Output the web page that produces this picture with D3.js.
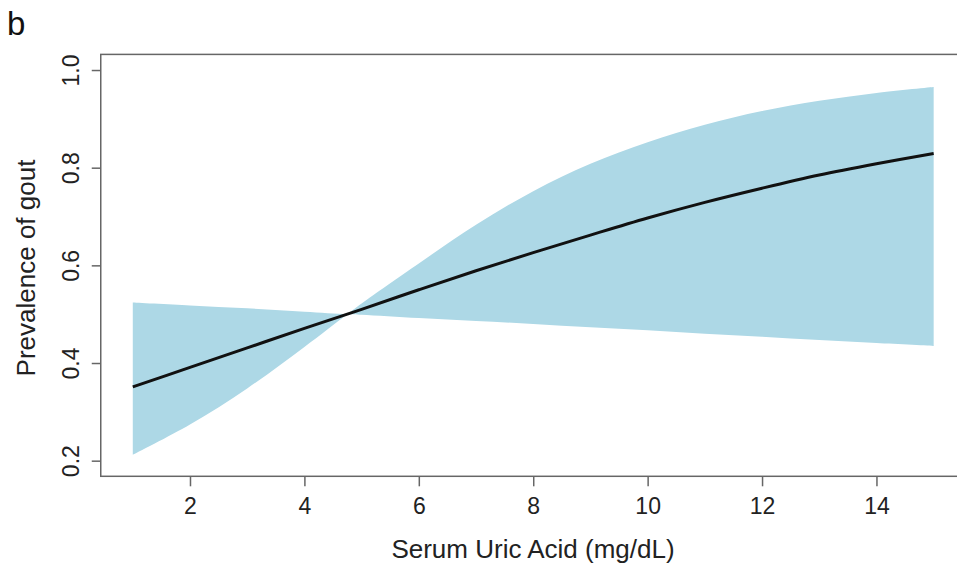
<!DOCTYPE html>
<html>
<head>
<meta charset="utf-8">
<script src="https://cdn.jsdelivr.net/npm/d3@7"></script>
<style>
  body { margin: 0; background: #fff; }
  text { font-family: "Liberation Sans", Arial, sans-serif; }
</style>
</head>
<body>
<div id="chart"></div>
<script>
// serum uric acid values where the curves were read
var uricAcid = [1, 2, 3, 4, 4.75, 5, 6, 7, 8, 9, 10, 11, 12, 13, 14, 15];
// fitted prevalence
var prevalence = [0.351, 0.391, 0.431, 0.471, 0.500, 0.510, 0.550, 0.589, 0.626, 0.662, 0.697, 0.729, 0.758, 0.785, 0.808, 0.829];
// the two confidence bounds (they cross near 4.75)
var boundFlat = [0.524, 0.518, 0.512, 0.505, 0.500, 0.499, 0.492, 0.486, 0.480, 0.473, 0.467, 0.460, 0.454, 0.447, 0.441, 0.435];
var boundSteep = [0.212, 0.274, 0.348, 0.433, 0.500, 0.522, 0.604, 0.683, 0.752, 0.808, 0.852, 0.888, 0.916, 0.937, 0.953, 0.965];

var xTicks = [2, 4, 6, 8, 10, 12, 14];
var yTicks = [0.2, 0.4, 0.6, 0.8, 1.0];

function draw_chart(){
    var width = 957;
    var height = 564;

    var svg = d3.select("#chart").append("svg")
        .attr("width", width)
        .attr("height", height);

    // R style domains with 4% padding
    var xScale = d3.scaleLinear().domain([0.44, 15.56]).range([100.75, 965.7]);
    var yScale = d3.scaleLinear().domain([0.168, 1.032]).range([476.3, 54.4]);

    var data = uricAcid.map(function(x, i) {
        return {x: x, y: prevalence[i], a: boundFlat[i], b: boundSteep[i]};
    });

    // confidence band
    var band = d3.area()
        .x(function(d) { return xScale(d.x); })
        .y0(function(d) { return yScale(d.a); })
        .y1(function(d) { return yScale(d.b); })
        .curve(d3.curveCatmullRom.alpha(0.5));

    svg.append("path")
        .datum(data)
        .attr("d", band)
        .style("fill", "#add8e6")
        .style("stroke", "none");

    // fitted line
    var line = d3.line()
        .x(function(d) { return xScale(d.x); })
        .y(function(d) { return yScale(d.y); })
        .curve(d3.curveCatmullRom.alpha(0.5));

    svg.append("path")
        .datum(data)
        .attr("d", line)
        .style("fill", "none")
        .style("stroke", "#111")
        .style("stroke-width", 3);

    // box
    svg.append("rect")
        .attr("x", xScale.range()[0])
        .attr("y", yScale.range()[1])
        .attr("width", xScale.range()[1] - xScale.range()[0])
        .attr("height", yScale.range()[0] - yScale.range()[1])
        .style("fill", "none")
        .style("stroke", "#666")
        .style("stroke-width", 1.5);

    // x axis
    var xAxis = d3.axisBottom(xScale).tickValues(xTicks).tickSize(10).tickPadding(6)
        .tickFormat(d3.format("d"));
    var gx = svg.append("g")
        .attr("transform", "translate(0," + yScale.range()[0] + ")")
        .call(xAxis);
    gx.select(".domain").remove();
    gx.selectAll("line").style("stroke", "#666").style("stroke-width", 1.5);
    gx.selectAll("text")
        .attr("dy", null)
        .attr("y", 38)
        .style("font-size", "23px")
        .style("fill", "#222");

    // y axis, labels rotated like R
    var yAxis = d3.axisLeft(yScale).tickValues(yTicks).tickSize(9)
        .tickFormat(d3.format(".1f"));
    var gy = svg.append("g")
        .attr("transform", "translate(" + xScale.range()[0] + ",0)")
        .call(yAxis);
    gy.select(".domain").remove();
    gy.selectAll("line").style("stroke", "#666").style("stroke-width", 1.5);
    gy.selectAll("text")
        .attr("x", null)
        .attr("dy", null)
        .attr("transform", "translate(-22,0) rotate(-90)")
        .style("text-anchor", "middle")
        .style("font-size", "23px")
        .style("fill", "#222");

    // axis titles
    svg.append("text")
        .attr("x", 533)
        .attr("y", 558)
        .style("text-anchor", "middle")
        .style("font-size", "26px")
        .style("fill", "#222")
        .text("Serum Uric Acid (mg/dL)");

    svg.append("text")
        .attr("transform", "translate(35,268) rotate(-90)")
        .style("text-anchor", "middle")
        .style("font-size", "26px")
        .style("fill", "#222")
        .text("Prevalence of gout");

    // panel letter
    svg.append("text")
        .attr("x", 7)
        .attr("y", 35)
        .style("font-size", "33px")
        .style("fill", "#111")
        .text("b");
}

draw_chart();
</script>
</body>
</html>
